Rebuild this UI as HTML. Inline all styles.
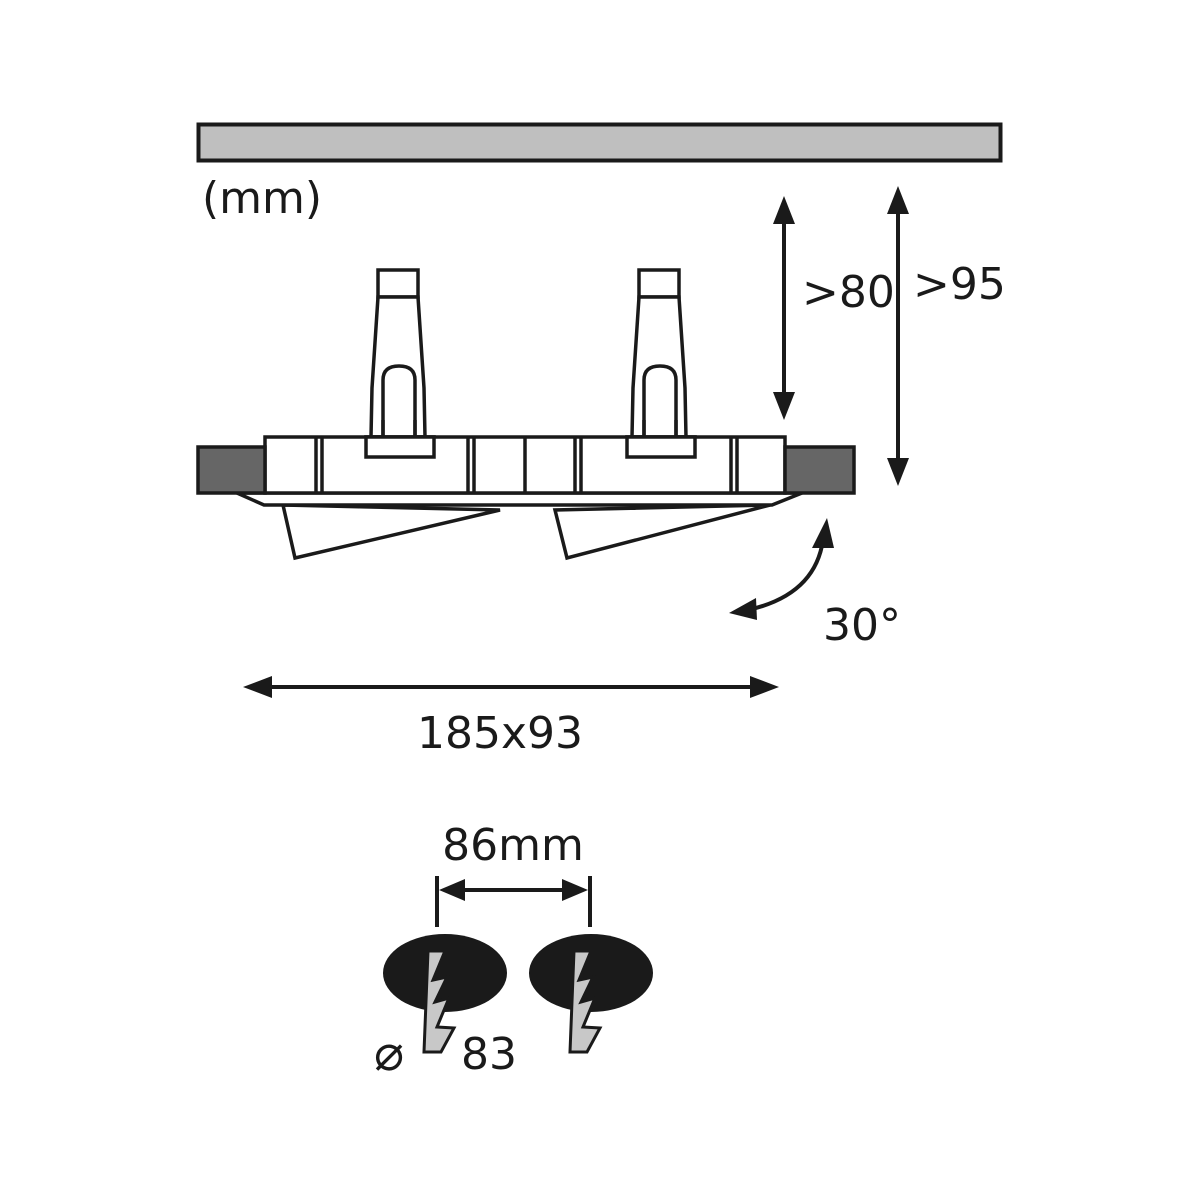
<!DOCTYPE html>
<html><head><meta charset="utf-8"><style>
html,body{margin:0;padding:0;background:#fff;}
svg{display:block;}
text{font-family:"DejaVu Sans","Liberation Sans",sans-serif;fill:#1a1a1a;}
</style></head><body>
<svg width="1200" height="1200" viewBox="0 0 1200 1200" xmlns="http://www.w3.org/2000/svg">
<!-- ceiling bar -->
<rect x="198.5" y="124.5" width="802" height="36" fill="#bfbfbf" stroke="#1a1a1a" stroke-width="4"/>
<text x="202" y="213" font-size="44">(mm)</text>

<g fill="#1a1a1a" stroke="#1a1a1a">
<line x1="784" y1="215" x2="784" y2="400" stroke-width="4"/>
<polygon points="784,196 773,224 795,224" stroke="none"/>
<polygon points="784,420 773,392 795,392" stroke="none"/>
<line x1="898" y1="205" x2="898" y2="465" stroke-width="4"/>
<polygon points="898,186 887,214 909,214" stroke="none"/>
<polygon points="898,486 887,458 909,458" stroke="none"/>
</g>
<text x="802" y="307" font-size="44">&gt;80</text>
<text x="913" y="299" font-size="44">&gt;95</text>

<g fill="#fff" stroke="#1a1a1a" stroke-width="3.5">
<g id="stem">
<rect x="378" y="270" width="40" height="27"/>
<polygon points="378,297 418,297 424,388 425,437 371,437 372,388"/>
<path d="M383,437 L383,380 Q383,366 399,366 Q415,366 415,380 L415,437" />
<rect x="366" y="437" width="68" height="20"/>
</g>
<use href="#stem" x="261"/>
</g>

<g fill="#fff" stroke="#1a1a1a" stroke-width="3.5">
<polygon points="283,505 295,558 500,510"/>
<polygon points="555,510 567,558 770,505"/>
<polygon points="237,493 802,493 772,505 264,505"/>
<rect x="265" y="437" width="520" height="56"/>
<rect x="198" y="447" width="67" height="46" fill="#666"/>
<rect x="785" y="447" width="69" height="46" fill="#666"/>
<line x1="316" y1="437" x2="316" y2="493"/><line x1="322" y1="437" x2="322" y2="493"/>
<line x1="468" y1="437" x2="468" y2="493"/><line x1="474" y1="437" x2="474" y2="493"/>
<line x1="525" y1="437" x2="525" y2="493"/>
<line x1="575" y1="437" x2="575" y2="493"/><line x1="581" y1="437" x2="581" y2="493"/>
<line x1="731" y1="437" x2="731" y2="493"/><line x1="737" y1="437" x2="737" y2="493"/>
</g>
<g fill="#fff" stroke="#1a1a1a" stroke-width="3.5">
<rect x="366" y="437" width="68" height="20"/>
<rect x="627" y="437" width="68" height="20"/>
<line x1="383" y1="420" x2="383" y2="437"/><line x1="415" y1="420" x2="415" y2="437"/>
<line x1="644" y1="420" x2="644" y2="437"/><line x1="676" y1="420" x2="676" y2="437"/>
</g>

<path d="M823,540 Q815,595 748,610" fill="none" stroke="#1a1a1a" stroke-width="4"/>
<polygon points="827,518 812,548 834,548" fill="#1a1a1a"/>
<polygon points="729,613 756,598 757,620" fill="#1a1a1a"/>
<text x="823" y="640" font-size="44">30°</text>

<line x1="265" y1="687" x2="758" y2="687" stroke="#1a1a1a" stroke-width="4"/>
<polygon points="243,687 272,676 272,698" fill="#1a1a1a"/>
<polygon points="779,687 750,676 750,698" fill="#1a1a1a"/>
<text x="500" y="748" font-size="44" text-anchor="middle">185x93</text>

<text x="513" y="860" font-size="44" text-anchor="middle">86mm</text>
<line x1="437" y1="876" x2="437" y2="927" stroke="#1a1a1a" stroke-width="4"/>
<line x1="590" y1="876" x2="590" y2="927" stroke="#1a1a1a" stroke-width="4"/>
<line x1="455" y1="890" x2="572" y2="890" stroke="#1a1a1a" stroke-width="4"/>
<polygon points="439,890 465,879 465,901" fill="#1a1a1a"/>
<polygon points="588,890 562,879 562,901" fill="#1a1a1a"/>

<ellipse cx="445" cy="973" rx="62" ry="39" fill="#1a1a1a"/>
<ellipse cx="591" cy="973" rx="62" ry="39" fill="#1a1a1a"/>
<g fill="#c8c8c8" stroke="#1a1a1a" stroke-width="3">
<polygon id="bolt" points="428,951 445,951 433,980 447,977 435,1002 449,998 437,1027 454,1028 441,1052 424,1052"/>
<use href="#bolt" x="146"/>
</g>
<text x="374" y="1070" font-size="50">⌀</text>
<text x="461" y="1069" font-size="44">83</text>
</svg>
</body></html>
